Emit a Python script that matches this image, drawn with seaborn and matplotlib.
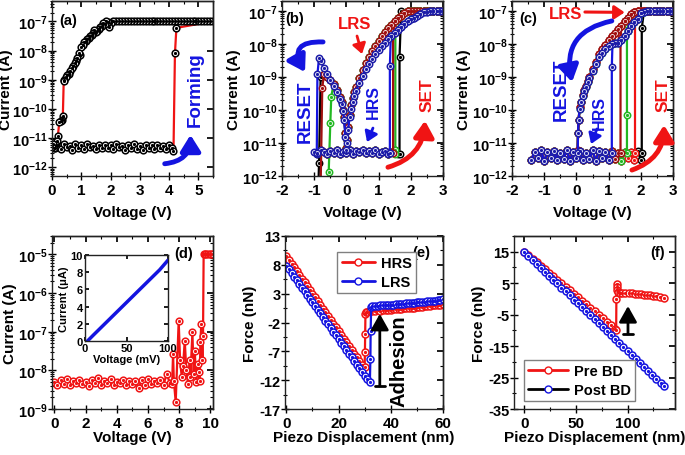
import numpy as np
import seaborn as sns
import matplotlib.pyplot as plt
from matplotlib.ticker import AutoMinorLocator, LogLocator, NullFormatter
from matplotlib.lines import Line2D

# ---------------- data ----------------
# (a) forming sweep, current in pA for the low branch
a_up_x = [0.0, 0.1, 0.2, 0.3, 0.4, 0.5, 0.6, 0.7, 0.8, 0.9, 1.0, 1.1, 1.2, 1.3, 1.4,
          1.5, 1.6, 1.7, 1.8, 1.9, 2.0, 2.1, 2.2, 2.3, 2.4, 2.5, 2.6, 2.7, 2.8, 2.9,
          3.0, 3.1, 3.2, 3.3, 3.4, 3.5, 3.6, 3.7, 3.8, 3.9, 4.0, 4.1, 4.15, 4.2, 4.25]
a_up_pA = [6.0, 4.5, 5.8, 4.2, 6.2, 4.8, 5.5, 4.0, 6.1, 4.6, 5.7, 4.3, 6.3, 4.9, 5.4,
           4.1, 5.9, 4.7, 6.0, 4.4, 5.6, 4.2, 6.2, 4.8, 5.3, 4.0, 5.8, 4.6, 6.1, 4.3,
           5.5, 3.8, 6.0, 4.5, 5.7, 4.2, 5.9, 4.7, 5.4, 4.1, 5.8, 4.4, 3.5, 8000, 60000]
a_cc_x = [5.5, 5.4, 5.3, 5.2, 5.1, 5.0, 4.9, 4.8, 4.7, 4.6, 4.5, 4.4, 4.3, 4.2, 4.1,
          4.0, 3.9, 3.8, 3.7, 3.6, 3.5, 3.4, 3.3, 3.2, 3.1, 3.0, 2.9, 2.8, 2.7, 2.6,
          2.5, 2.4, 2.3, 2.2, 2.1]
a_cc_A = 1.0e-7  # compliance level
a_dn_x = [2.0, 1.95, 1.9, 1.85, 1.8, 1.75, 1.7, 1.65, 1.6, 1.55, 1.5, 1.45, 1.4, 1.35,
          1.3, 1.25, 1.2, 1.15, 1.1, 1.05, 1.0, 0.97, 0.92, 0.87, 0.82, 0.77, 0.72,
          0.67, 0.62, 0.57, 0.52, 0.47, 0.42, 0.4, 0.37, 0.33, 0.3, 0.25, 0.2, 0.17,
          0.12, 0.08, 0.04, 0.0]
a_dn_pA = [90000, 65000, 95000, 100000, 80000, 90000, 70000, 62000, 55000, 48000,
           42000, 50000, 40000, 35000, 31000, 28000, 25000, 22000, 20000, 16000,
           13000, 7000, 8000, 5500, 4500, 3800, 3000, 2500, 2000, 1600,
           1400, 1200, 1000, 900, 55, 42, 38, 35, 12, 8, 6.0, 4.5, 6.2, 5.0]

# (b) bipolar cycles: shared HRS band (pA) and LRS branches (nA)
b_hrs_x = [-1.0, -0.9, -0.8, -0.7, -0.6, -0.5, -0.4, -0.3, -0.2, -0.1, 0.0, 0.1, 0.2,
           0.3, 0.4, 0.5, 0.6, 0.7, 0.8, 0.9, 1.0, 1.1, 1.2, 1.3, 1.4, 1.5, 1.6]
b_hrs_pA = [5.5, 4.8, 6.0, 5.2, 4.6, 5.8, 5.0, 6.2, 4.7, 5.5, 5.0, 6.0, 4.8, 5.6, 5.2,
            6.3, 4.9, 5.7, 5.1, 6.0, 4.6, 5.5, 5.9, 4.8, 5.3, 6.1, 4.5]
b_lrs_x = [3.0, 2.9, 2.8, 2.7, 2.6, 2.5, 2.4, 2.3, 2.2, 2.1, 2.0, 1.9, 1.8, 1.7, 1.6,
           1.5, 1.4, 1.3, 1.2, 1.1, 1.0, 0.9, 0.8, 0.7, 0.6, 0.5, 0.4, 0.3, 0.25, 0.2,
           0.15, 0.1, 0.05, 0.02, 0.0, -0.03, -0.07, -0.1, -0.15, -0.2, -0.3, -0.4,
           -0.5, -0.6, -0.7, -0.8, -0.85]
b_lrs_lo_nA = [100, 100, 100, 100, 98, 95, 90, 80, 72, 63, 56, 48, 40, 33, 26, 21, 17,
               14, 11, 8.5, 6.5, 5.0, 3.6, 2.5, 1.7, 1.1, 0.65, 0.38, 0.27, 0.18, 0.11,
               0.06, 0.025, 0.01, 0.006, 0.015, 0.05, 0.09, 0.15, 0.22, 0.35, 0.55,
               0.8, 1.2, 1.9, 3.0, 3.8]
b_lrs_hi_nA = [100, 100, 100, 100, 100, 100, 100, 100, 100, 100, 100, 100, 85, 72, 60,
               48, 38, 30, 23, 17, 12, 8.5, 6.0, 4.0, 2.6, 1.6, 0.9, 0.5, 0.35, 0.23,
               0.14, 0.07, 0.03, 0.012, 0.007, 0.02, 0.06, 0.1, 0.17, 0.25, 0.4, 0.6,
               0.8, 1.0, 1.2, 1.0, 0.8]
# per cycle: black, green, dark red, blue
b_lo = [-0.9, -0.6, -0.8, -1.0]
b_hi = [1.6, 1.5, 1.4, 1.3]
b_set_x = [[1.65, 1.65, 1.7], [1.52, 1.52], [1.45, 1.45], [1.35, 1.35, 1.38]]
b_set_y = [[4.5e-12, 4e-9, 1e-7], [4.5e-12, 4e-8], [5e-12, 3e-8], [5e-12, 2.2e-9, 1.8e-8]]
b_stop = [-0.8, -0.4, -0.7, -0.85]
b_rst_x = [[-0.85, -0.87], [-0.47, -0.5, -0.55], [-0.75, -0.8], [-0.9, -0.92]]
b_rst_y = [[2.5e-12, 5e-13], [2.5e-10, 4e-11, 1.3e-12], [4.5e-10, 5e-13], [1.2e-9, 5e-12]]

# (c) cycles
c_hrs_x = [-1.4, -1.3, -1.2, -1.1, -1.0, -0.9, -0.8, -0.7, -0.6, -0.5, -0.4, -0.3,
           -0.2, -0.1, 0.0, 0.1, 0.2, 0.3, 0.4, 0.5, 0.6, 0.7, 0.8, 0.9, 1.0, 1.1,
           1.2, 1.3, 1.4, 1.5, 1.6, 1.7, 1.8, 1.9, 2.0]
c_hrs_pA = [3.0, 5.5, 3.4, 6.0, 2.8, 5.2, 3.6, 5.8, 3.1, 5.0, 3.3, 6.1, 2.9, 5.4, 3.5,
            5.7, 3.0, 5.1, 3.2, 6.0, 2.8, 5.6, 3.4, 5.3, 3.0, 5.9, 3.3, 5.0, 2.9, 5.5,
            3.6, 5.2, 3.1, 5.8, 3.0]
c_lrs_x = [3.0, 2.9, 2.8, 2.7, 2.6, 2.5, 2.4, 2.3, 2.2, 2.1, 2.0, 1.9, 1.8, 1.7, 1.6,
           1.5, 1.4, 1.3, 1.2, 1.1, 1.0, 0.9, 0.8, 0.7, 0.6, 0.5, 0.4, 0.35, 0.3, 0.25,
           0.2, 0.15, 0.1, 0.07, 0.05]
c_lrs_lo_nA = [100, 100, 100, 100, 100, 100, 100, 100, 100, 95, 88, 56, 45, 35, 25,
               18, 13, 11, 10.5, 10, 8.5, 7, 5.5, 4, 2.4, 1.5, 0.95, 0.7, 0.5, 0.38,
               0.27, 0.17, 0.11, 0.05, 0.02]
c_lrs_hi_nA = [100, 100, 100, 100, 100, 100, 100, 100, 100, 100, 100, 100, 90, 78, 63,
               48, 36, 28, 22, 17, 13, 9.5, 7, 4.8, 2.8, 1.7, 1.0, 0.75, 0.55, 0.4,
               0.28, 0.18, 0.12, 0.05, 0.02]
# per cycle: black, red, green, dark red, blue
c_hi = [2.0, 1.8, 1.5, 1.3, 1.0]
c_set_x = [[2.03, 2.03], [1.82, 1.82], [1.57, 1.57, 1.57], [1.37, 1.37], [1.1, 1.1, 1.12]]
c_set_y = [[5e-12, 3e-8], [5e-12, 5e-8], [5e-12, 7e-11, 4e-8], [5e-12, 1.5e-8],
           [5e-12, 2e-9, 1e-8]]
c_rst_x = [[0.04], [0.04], [0.04], [0.04], [0.04]]
c_rst_y = [[5.5e-12], [4.8e-12], [5.2e-12], [6e-12], [5e-12]]

# (d) breakdown sweep, current in nA
d_x = [0.0, 0.2, 0.4, 0.6, 0.8, 1.0, 1.2, 1.4, 1.6, 1.8, 2.0, 2.2, 2.4, 2.6, 2.8, 3.0,
       3.2, 3.4, 3.6, 3.8, 4.0, 4.2, 4.4, 4.6, 4.8, 5.0, 5.2, 5.4, 5.6, 5.8, 6.0, 6.2,
       6.4, 6.6, 6.8, 7.0, 7.2, 7.4, 7.55, 7.61, 7.66, 7.78, 7.97, 8.06, 8.17, 8.25,
       8.36, 8.46, 8.57, 8.68, 8.72, 8.85, 8.93, 9.0, 9.1, 9.21, 9.27, 9.32, 9.36,
       9.42, 9.49, 9.53, 9.57, 9.65, 9.75, 9.85, 9.95, 10.05, 10.15]
d_nA = [5.0, 4.2, 5.5, 4.5, 6.0, 4.3, 5.2, 4.6, 5.8, 4.4, 5.1, 4.0, 5.6, 4.7, 6.2, 4.3,
        5.3, 4.8, 5.9, 4.2, 5.0, 4.6, 5.7, 4.1, 5.4, 4.5, 5.2, 3.6, 5.5, 4.2, 6.1, 4.4,
        5.3, 4.7, 5.8, 4.3, 8.0, 4.8, 4.5, 27, 5.4, 1.5, 190, 18, 6.6, 13,
        59, 10, 4.4, 18, 6.6, 96, 8, 32, 4.9, 15, 8.9, 5.4, 53,
        160, 18, 79, 10000, 10000, 10000, 10000, 10000, 10000, 10000]
ins_mV = [3, 10, 20, 30, 40, 50, 60, 70, 80, 90, 100]
ins_uA = [0.0, 0.68, 1.63, 2.58, 3.53, 4.48, 5.43, 6.38, 7.33, 8.28, 9.4]

# (e) force curves
e_hrs_x = [0, 1, 2, 3, 4, 5, 6, 7, 8, 9, 10, 11, 12, 13, 14, 15, 16, 17, 18, 19, 20,
           21, 22, 23, 24, 25, 26, 27, 28, 29, 30, 30.1, 30.2, 30.3, 30.5,
           31, 32, 33, 34, 35, 36, 37, 38, 39, 40, 41, 42, 43, 44, 45, 46, 47, 48,
           49, 50, 51, 52, 53, 54, 55, 56, 57, 58, 59, 60]
e_hrs_nN = [9.5, 8.9, 8.2, 7.6, 6.9, 6.3, 5.6, 5.0, 4.3, 3.7, 3.0, 2.4, 1.7, 1.1, 0.4,
            -0.2, -0.9, -1.5, -2.2, -2.8, -3.5, -4.1, -4.8, -5.4, -6.1, -6.7, -7.4,
            -8.0, -8.7, -9.3, -9.8, -7.2, -4.0, -0.6, -0.2,
            -0.1, 0.0, -0.05, 0.05, 0.1, 0.05, 0.15, 0.2, 0.15, 0.25, 0.3, 0.3, 0.4,
            0.35, 0.45, 0.5, 0.5, 0.6, 0.55, 0.65, 0.7, 0.75, 0.8, 0.8, 0.9, 0.95,
            1.0, 1.05, 1.1, 1.2]
e_lrs_x = [0, 1, 2, 3, 4, 5, 6, 7, 8, 9, 10, 11, 12, 13, 14, 15, 16, 17, 18, 19, 20,
           21, 22, 23, 24, 25, 26, 27, 28, 29, 30, 31, 32, 32.2, 32.3, 32.5,
           33, 34, 35, 36, 37, 38, 39, 40, 41, 42, 43, 44, 45, 46, 47, 48, 49, 50,
           51, 52, 53, 54, 55, 56, 57, 58, 59, 60]
e_lrs_nN = [7.8, 7.2, 6.5, 5.9, 5.3, 4.6, 4.0, 3.4, 2.7, 2.1, 1.5, 0.8, 0.2, -0.4,
            -1.1, -1.7, -2.3, -3.0, -3.6, -4.2, -4.9, -5.5, -6.1, -6.8, -7.4, -8.0,
            -8.7, -9.3, -9.9, -10.6, -11.2, -11.8, -12.4, -8.3, -3.4, 0.7,
            0.85, 0.8, 0.9, 0.95, 0.95, 1.0, 1.05, 1.05, 1.1, 1.15, 1.2, 1.2, 1.25,
            1.3, 1.35, 1.4, 1.4, 1.5, 1.5, 1.55, 1.6, 1.65, 1.7, 1.75, 1.8, 1.85,
            1.9, 2.0]

# (f) force curves before / after breakdown
f_pre_x = [0, 4, 8, 12, 16, 20, 24, 28, 32, 36, 40, 44, 48, 52, 56, 60, 64, 68, 72,
           76, 80, 84, 88, 89, 89.2, 89.4, 89.6, 90.0, 91.0, 92.5,
           95, 98, 101, 104, 107, 110, 113, 116, 119, 122, 125, 128, 131, 135]
f_pre_nN = [15.0, 13.9, 12.8, 11.7, 10.5, 9.4, 8.3, 7.2, 6.1, 5.0, 3.9, 2.7, 1.6, 0.5,
            -0.6, -1.7, -2.8, -4.0, -5.1, -6.2, -7.3, -8.4, -9.5, -9.8, 0.0, 4.8,
            3.7, 2.7, 2.2, 2.0,
            1.9, 1.9, 1.8, 1.8, 1.7, 1.6, 1.5, 1.4, 1.3, 1.1, 1.0, 0.8, 0.6, 0.3]
f_post_x = [0, 4, 8, 12, 16, 20, 24, 28, 32, 36, 40, 44, 48, 52, 56, 60, 64, 68, 72,
            76, 80, 84, 88, 92, 96, 100, 104, 108, 112, 116, 120, 124, 128, 132, 135]
f_post_nN = [15.0, 13.7, 12.5, 11.2, 9.9, 8.7, 7.4, 6.1, 4.9, 3.6, 2.4, 1.1, -0.2,
             -1.4, -2.7, -4.0, -5.2, -6.5, -7.8, -9.0, -10.3, -11.6, -12.8, -14.1,
             -15.4, -16.6, -17.9, -19.1, -20.4, -21.7, -22.9, -24.2, -25.5, -26.7,
             -27.7]

# ---------------- style ----------------
sns.set_theme(style='ticks')
plt.rcParams.update({
    'font.family': ['Liberation Sans', 'DejaVu Sans'],
    'font.weight': 'bold',
    'axes.labelweight': 'bold',
    'axes.linewidth': 1.0,
    'axes.edgecolor': '#222222',
    'axes.unicode_minus': False,
    'text.color': 'black',
    'axes.labelcolor': 'black',
    'xtick.color': 'black',
    'ytick.color': 'black',
    'mathtext.fontset': 'custom',
    'mathtext.rm': 'Liberation Sans:bold',
    'mathtext.bf': 'Liberation Sans:bold',
    'mathtext.it': 'Liberation Sans:bold:italic',
    'mathtext.default': 'bf',
})

BLUE = '#1414e0'
MBLUE = '#1c1ca8'
RED = '#f01414'
DRED = '#a01010'
GREEN = '#22b822'


def circ(ax, x, y, lc, mc, ms=4.8, lw=1.6):
    sns.lineplot(x=np.asarray(x, float), y=np.asarray(y, float), ax=ax, sort=False,
                 estimator=None, color=lc, lw=lw, marker='o', markersize=ms,
                 markerfacecolor='white', markeredgecolor=mc, markeredgewidth=1.1)
    ax.plot(x, y, ls='none', marker='o', ms=1.3, color=mc)


def sweep(hx, hy, lo, hi, sx, sy, lx, ly, stop, rx, ry):
    hx, hy, lx, ly = map(np.asarray, (hx, hy, lx, ly))
    keep = (hx >= lo - 1e-9) & (hx <= hi + 1e-9)
    up = lx > sx[-1]
    dn = lx >= stop - 1e-9
    x = np.concatenate([hx[keep], sx, lx[up][::-1], lx[dn], rx])
    y = np.concatenate([hy[keep], sy, ly[up][::-1], ly[dn], ry])
    return x, y


def minor_y(log):
    return LogLocator(base=10, subs=(2, 3, 4, 5, 6, 7, 8, 9)) if log else AutoMinorLocator(2)


def frame(ax, xt, yt, xlim, ylim, xlab, ylab, ylx, xly, log=False):
    ax.set_xlim(xlim)
    ax.set_ylim(ylim)
    ax.set_xticks(xt)
    ax.set_yticks(yt)
    ax.xaxis.set_minor_locator(AutoMinorLocator(2))
    ax.yaxis.set_minor_locator(minor_y(log))
    ax.yaxis.set_minor_formatter(NullFormatter())
    ax.tick_params(which='major', direction='inout', length=5.5, width=1, labelsize=10.5)
    ax.tick_params(which='minor', direction='inout', length=3, width=0.8)
    ax.tick_params(axis='x', which='major', pad=2.5, labelsize=11)
    ax.tick_params(axis='y', which='major', pad=0.5)
    sx = ax.secondary_xaxis('top')
    sx.set_xticks(xt)
    sx.xaxis.set_minor_locator(AutoMinorLocator(2))
    sx.tick_params(which='major', direction='in', length=4, labeltop=False)
    sx.tick_params(which='minor', direction='in', length=2, width=0.8, labeltop=False)
    sy = ax.secondary_yaxis('right')
    sy.set_yticks(yt)
    sy.yaxis.set_minor_locator(minor_y(log))
    sy.yaxis.set_minor_formatter(NullFormatter())
    sy.tick_params(which='major', direction='in', length=4, labelright=False)
    sy.tick_params(which='minor', direction='in', length=2, width=0.8, labelright=False)
    ax.set_xlabel(xlab, fontsize=11)
    ax.set_ylabel(ylab, fontsize=11)
    ax.yaxis.set_label_coords(ylx, 0.5)
    ax.xaxis.set_label_coords(0.5, xly)


def label(ax, fx, fy, s, color='black', size=10.5, rot=0):
    ax.text(fx, fy, s, transform=ax.transAxes, ha='center', va='center', color=color,
            fontsize=size, fontweight='bold', rotation=rot)


def arrow(ax, tail, tip, color, rad=0.0, lw=3.0, hl=0.8, hw=0.5, ms=12):
    ax.annotate('', xy=tip, xytext=tail, xycoords='axes fraction',
                textcoords='axes fraction',
                arrowprops=dict(arrowstyle=f'-|>,head_length={hl},head_width={hw}',
                                connectionstyle=f'arc3,rad={rad}', color=color, lw=lw,
                                shrinkA=0, shrinkB=0, mutation_scale=ms))


fig = plt.figure(figsize=(6.85, 4.56), dpi=100)
W, H = 685, 456


def box(l, t, r, b):
    return [l / W, 1 - b / H, (r - l) / W, (b - t) / H]


DEC12 = [1e-12, 1e-11, 1e-10, 1e-9, 1e-8, 1e-7]

# ---------------- (a) ----------------
ax = fig.add_axes(box(52, 2, 213, 177))
ax.set_yscale('log')
ax_x = a_up_x + a_cc_x + a_dn_x
ax_y = ([v * 1e-12 for v in a_up_pA] + [a_cc_A] * len(a_cc_x)
        + [v * 1e-12 for v in a_dn_pA])
circ(ax, ax_x, ax_y, RED, 'black')
frame(ax, [0, 1, 2, 3, 4, 5], DEC12, (0, 5.5), (5e-13, 5e-7),
      'Voltage (V)', 'Current (A)', -0.245, -0.165, log=True)
label(ax, 0.10, 0.89, '(a)')
label(ax, 0.89, 0.50, 'Forming', BLUE, 13.5, 90)
arrow(ax, (0.70, 0.07), (0.86, 0.235), BLUE, rad=0.45, lw=3.5)

# ---------------- (b) ----------------
ax = fig.add_axes(box(282, 2, 443, 177))
ax.set_yscale('log')
b_hy = [v * 1e-12 for v in b_hrs_pA]
b_lo_A = [v * 1e-9 for v in b_lrs_lo_nA]
b_hi_A = [v * 1e-9 for v in b_lrs_hi_nA]
for i, col in enumerate(['black', GREEN, DRED, BLUE]):
    curve = b_lo_A if col == BLUE else b_hi_A
    x, y = sweep(b_hrs_x, b_hy, b_lo[i], b_hi[i], b_set_x[i], b_set_y[i],
                 b_lrs_x, curve, b_stop[i], b_rst_x[i], b_rst_y[i])
    circ(ax, x, y, col, MBLUE if col == BLUE else col, ms=4.6)
frame(ax, [-2, -1, 0, 1, 2, 3], DEC12, (-2, 3), (1e-12, 2e-7),
      'Voltage (V)', 'Current (A)', -0.255, -0.165, log=True)
label(ax, 0.08, 0.90, '(b)')
label(ax, 0.453, 0.874, 'LRS', RED, 12)
arrow(ax, (0.466, 0.80), (0.497, 0.697), RED, lw=2, hl=0.6, hw=0.4, ms=10)
label(ax, 0.143, 0.37, 'RESET', BLUE, 13.5, 90)
arrow(ax, (0.255, 0.766), (0.143, 0.594), BLUE, rad=0.9, lw=3.5)
label(ax, 0.565, 0.43, 'HRS', BLUE, 11.5, 90)
arrow(ax, (0.565, 0.274), (0.528, 0.194), BLUE, lw=2, hl=0.6, hw=0.4, ms=10)
label(ax, 0.90, 0.469, 'SET', RED, 12.5, 90)
arrow(ax, (0.658, 0.05), (0.888, 0.316), RED, rad=0.35, lw=3.5)

# ---------------- (c) ----------------
ax = fig.add_axes(box(512, 2, 673, 177))
ax.set_yscale('log')
c_hy = [v * 1e-12 for v in c_hrs_pA]
c_lo_A = [v * 1e-9 for v in c_lrs_lo_nA]
c_hi_A = [v * 1e-9 for v in c_lrs_hi_nA]
for i, col in enumerate(['black', RED, GREEN, DRED, BLUE]):
    curve = c_lo_A if col in (BLUE, GREEN) else c_hi_A
    x, y = sweep(c_hrs_x, c_hy, -1.4, c_hi[i], c_set_x[i], c_set_y[i],
                 c_lrs_x, curve, 0.05, c_rst_x[i], c_rst_y[i])
    circ(ax, x, y, col, MBLUE if col == BLUE else col, ms=4.6)
frame(ax, [-2, -1, 0, 1, 2, 3], DEC12, (-2, 3), (1e-12, 2e-7),
      'Voltage (V)', 'Current (A)', -0.255, -0.165, log=True)
label(ax, 0.10, 0.90, '(c)')
label(ax, 0.335, 0.926, 'LRS', RED, 12)
arrow(ax, (0.453, 0.937), (0.70, 0.935), RED, lw=2.2, hl=0.6, hw=0.4, ms=10)
label(ax, 0.304, 0.497, 'RESET', BLUE, 13.5, 90)
arrow(ax, (0.62, 0.886), (0.373, 0.537), BLUE, rad=0.5, lw=3.5)
label(ax, 0.54, 0.366, 'HRS', BLUE, 11.5, 90)
arrow(ax, (0.528, 0.269), (0.491, 0.183), BLUE, lw=2, hl=0.6, hw=0.4, ms=10)
label(ax, 0.938, 0.469, 'SET', RED, 12.5, 90)
arrow(ax, (0.745, 0.034), (0.944, 0.291), RED, rad=0.35, lw=3.5)

# ---------------- (d) ----------------
ax = fig.add_axes(box(52, 237, 213, 410))
ax.set_yscale('log')
circ(ax, d_x, [v * 1e-9 for v in d_nA], RED, RED, ms=4.8)
frame(ax, [0, 2, 4, 6, 8, 10], [1e-9, 1e-8, 1e-7, 1e-6, 1e-5], (-0.15, 10.17),
      (1e-9, 3e-5), 'Voltage (V)', 'Current (A)', -0.215, -0.12, log=True)
label(ax, 0.82, 0.90, '(d)')

ins = fig.add_axes(box(85, 256, 168, 342))
sns.lineplot(x=ins_mV, y=ins_uA, ax=ins, color=BLUE, lw=2.5)
ins.set_xlim(0, 100)
ins.set_ylim(0, 10)
ins.set_xticks([0, 50, 100])
ins.set_yticks([0, 2, 4, 6, 8, 10])
ins.tick_params(direction='in', length=3, labelsize=8, pad=1.5, top=True, right=True)
ins.set_xlabel('Voltage (mV)', fontsize=8, labelpad=1)
ins.set_ylabel('Current (\u03bcA)', fontsize=8, labelpad=1)

# ---------------- (e) ----------------
ax = fig.add_axes(box(285, 237, 443, 410))
circ(ax, e_hrs_x, e_hrs_nN, RED, RED, ms=5)
circ(ax, e_lrs_x, e_lrs_nN, BLUE, BLUE, ms=5)
frame(ax, [0, 20, 40, 60], [-17, -12, -7, -2, 3, 8, 13], (-0.5, 60), (-17, 13),
      'Piezo Displacement (nm)', 'Force (nN)', -0.18, -0.12)
label(ax, 0.86, 0.91, '(e)')
hnd = [Line2D([], [], color=RED, lw=2, marker='o', ms=5, mfc='white', mec=RED),
       Line2D([], [], color=BLUE, lw=2, marker='o', ms=5, mfc='white', mec=BLUE)]
ax.legend(hnd, ['HRS', 'LRS'], loc='upper left', bbox_to_anchor=(0.33, 0.907),
          borderaxespad=0, fontsize=10.5, handlelength=2.3, numpoints=1,
          fancybox=False, edgecolor='gray', framealpha=1, borderpad=0.3,
          labelspacing=0.3, handletextpad=0.4)
label(ax, 0.72, 0.28, 'Adhesion', 'black', 14.5, 90)
arrow(ax, (0.60, 0.133), (0.60, 0.55), 'black', lw=2, hl=0.8, hw=0.45, ms=12)
ax.plot([0.57, 0.63], [0.133, 0.133], transform=ax.transAxes, color='black', lw=2)

# ---------------- (f) ----------------
ax = fig.add_axes(box(514, 237, 675, 410))
circ(ax, f_pre_x, f_pre_nN, RED, RED, ms=5)
circ(ax, f_post_x, f_post_nN, BLUE, BLUE, ms=5)
frame(ax, [0, 50, 100], [-35, -25, -15, -5, 5, 15], (-10, 146), (-35, 20),
      'Piezo Displacement (nm)', 'Force (nN)', -0.175, -0.12)
label(ax, 0.89, 0.91, '(f)')
hnd = [Line2D([], [], color=RED, lw=2, marker='o', ms=5, mfc='white', mec=RED),
       Line2D([], [], color='black', lw=2, marker='o', ms=5, mfc='white', mec=BLUE)]
ax.legend(hnd, ['Pre BD', 'Post BD'], loc='lower left', bbox_to_anchor=(0.062, 0.046),
          borderaxespad=0, fontsize=10.5, handlelength=2.7, numpoints=1,
          fancybox=False, edgecolor='gray', framealpha=1, borderpad=0.3,
          labelspacing=0.3, handletextpad=0.4)
arrow(ax, (0.708, 0.434), (0.708, 0.595), 'black', lw=2, hl=0.8, hw=0.45, ms=12)
ax.plot([0.678, 0.738], [0.434, 0.434], transform=ax.transAxes, color='black', lw=2)

fig.savefig('out.png', dpi=100)
